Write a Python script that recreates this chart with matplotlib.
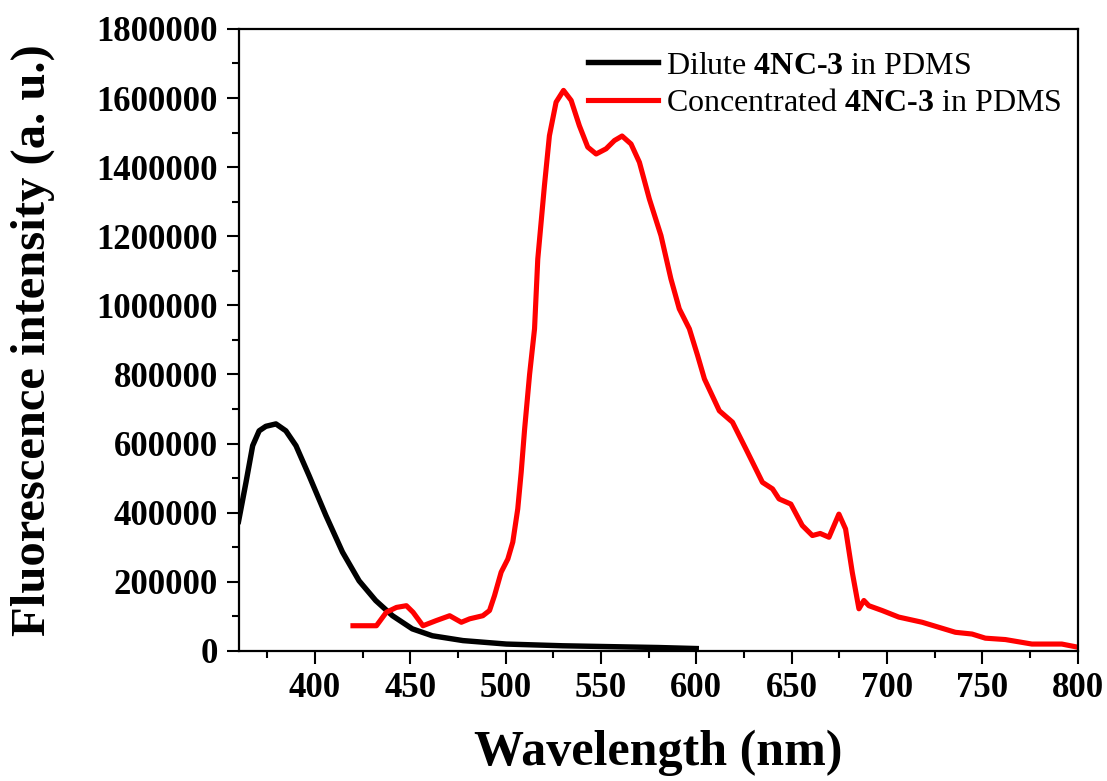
import matplotlib
matplotlib.use("Agg")
import matplotlib.pyplot as plt
from matplotlib.ticker import MultipleLocator, FormatStrFormatter

plt.rcParams["font.family"] = ["Liberation Serif", "DejaVu Serif"]
plt.rcParams["mathtext.fontset"] = "custom"
plt.rcParams["mathtext.rm"] = "Liberation Serif"
plt.rcParams["mathtext.bf"] = "Liberation Serif:bold"

# dilute 4NC-3 in PDMS
dil_wl = [360, 363.9, 367.4, 370.8, 374.3, 379.6, 384.8, 390.1, 397, 405.8,
          414.5, 423.2, 431.9, 440.7, 451.1, 461.6, 477.7, 500.4, 530, 560, 580, 600]
dil_int = [375000, 488000, 594000, 637000, 650000, 657000, 637000, 594000,
           507000, 392000, 286000, 203000, 146000, 102000, 64000, 44000, 30000,
           20000, 15000, 12000, 10000, 7000]

# concentrated 4NC-3 in PDMS
con_wl = [420, 432.3, 437.5, 442.8, 448, 451.5, 456.7, 463.7, 470.7, 476.8, 481.2,
          488.1, 491.6, 494.2, 497.7, 501.2, 503.8, 506.4, 508.2, 510, 512.6, 515.2,
          516.9, 520.4, 523, 526.5, 530.4, 534.4, 538.7, 543.1, 547.5, 552.7, 557.1,
          561.1, 565.8, 570.2, 575.4, 581.5, 586.7, 591.1, 596.4, 600.7, 604.3,
          612.1, 619, 626, 634.7, 640, 643.4, 649.6, 655.6, 660.9, 665, 669.6,
          674.8, 678.3, 681.8, 685.3, 687.9, 690.5, 697.5, 706.2, 718.5, 735.9,
          744.6, 751.6, 762.1, 776, 791.7, 800]
con_int = [73000, 73000, 112000, 126000, 131000, 112000, 73000, 88000, 102000,
           83000, 93000, 102000, 117000, 160000, 228000, 266000, 315000, 411000,
           517000, 642000, 800000, 932000, 1134000, 1347000, 1491000, 1588000,
           1622000, 1593000, 1520000, 1458000, 1438000, 1453000, 1477000, 1490000,
           1467000, 1414000, 1308000, 1202000, 1077000, 990000, 932000, 855000,
           787000, 695000, 662000, 585000, 488000, 469000, 440000, 425000, 363000,
           334000, 340000, 329000, 396000, 353000, 228000, 122000, 146000, 131000,
           117000, 98000, 83000, 54000, 49000, 37000, 33000, 20000, 20000, 11000]

fig = plt.figure(figsize=(11.07, 7.81), dpi=100)
ax = fig.add_axes([0.2155, 0.1665, 0.758, 0.7965])

ax.plot(dil_wl, dil_int, color="black", lw=3.9, solid_joinstyle="round",
        label=r"Dilute $\mathbf{4NC‐3}$ in PDMS")
ax.plot(con_wl, con_int, color="#ff0000", lw=3.7, solid_joinstyle="round",
        label=r"Concentrated $\mathbf{4NC‐3}$ in PDMS")

ax.set_xlim(360, 800)
ax.set_ylim(0, 1800000)
ax.xaxis.set_major_locator(MultipleLocator(50))
ax.xaxis.set_minor_locator(MultipleLocator(25))
ax.yaxis.set_major_locator(MultipleLocator(200000))
ax.yaxis.set_minor_locator(MultipleLocator(100000))
ax.yaxis.set_major_formatter(FormatStrFormatter("%d"))
ax.tick_params(which="major", direction="out", length=9, width=1.5, labelsize=25, pad=6)
ax.tick_params(which="minor", direction="out", length=5, width=1.5)
for lab in ax.get_xticklabels() + ax.get_yticklabels():
    lab.set_fontweight("bold")
for s in ax.spines.values():
    s.set_linewidth(1.6)

ax.set_xlabel("Wavelength (nm)", fontsize=36, fontweight="bold", labelpad=18)
ax.set_ylabel("Fluorescence intensity (a. u.)", fontsize=35, fontweight="bold")
ax.yaxis.set_label_coords(-0.219, 0.5)

ax.legend(loc="upper right", frameon=False, fontsize=23, handlelength=2.2,
          handletextpad=0.25, labelspacing=0.25, borderaxespad=0.2,
          bbox_to_anchor=(1.004, 0.995))

fig.savefig("out.png", dpi=100)
